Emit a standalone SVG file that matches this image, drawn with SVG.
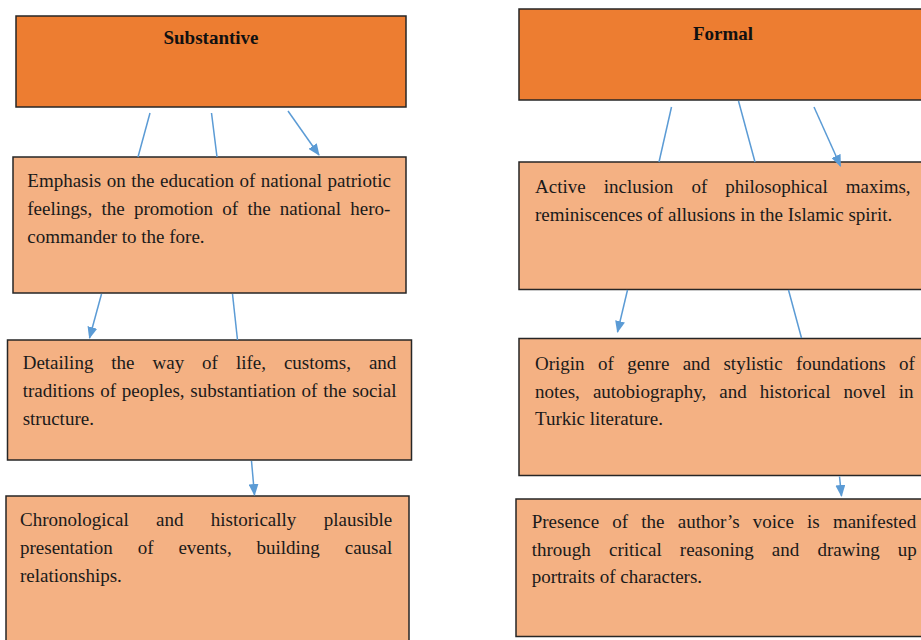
<svg xmlns="http://www.w3.org/2000/svg" width="921" height="640" viewBox="0 0 921 640">
<style>
.head{fill:#ED7D31;stroke:#262626;stroke-width:1.5}
.item{fill:#F4B183;stroke:#262626;stroke-width:1.5}
.title{font-family:"Liberation Serif","Times New Roman",serif;font-weight:bold;font-size:19px;fill:#111;text-anchor:middle}
.t{font-family:"Liberation Serif","Times New Roman",serif;font-size:19px;fill:#1a1a1a}
.c{stroke:#5B9BD5;stroke-width:1.5;fill:none}
</style>
<defs>
<marker id="ah" markerUnits="userSpaceOnUse" markerWidth="12" markerHeight="10" refX="11" refY="5" orient="auto">
<path d="M0,0 L12,5 L0,10 Z" fill="#5B9BD5"/>
</marker>
</defs>
<rect width="921" height="640" fill="#ffffff"/>

<g id="substantive">
<rect class="head" x="16" y="16" width="390" height="91"/>
<text class="title" x="211" y="44">Substantive</text>
</g>

<g id="s1">
<rect class="item" x="13" y="157" width="393" height="136"/>
<text class="t" x="27.3" y="187" word-spacing="0.8">Emphasis on the education of national patriotic</text>
<text class="t" x="27.3" y="215" word-spacing="4.5">feelings, the promotion of the national hero-</text>
<text class="t" x="27.3" y="243">commander to the fore.</text>
</g>

<g id="s2">
<rect class="item" x="7.5" y="340" width="404" height="120"/>
<text class="t" x="22.7" y="369" word-spacing="13.2">Detailing the way of life, customs, and</text>
<text class="t" x="22.7" y="397" word-spacing="1">traditions of peoples, substantiation of the social</text>
<text class="t" x="22.7" y="425">structure.</text>
</g>

<g id="s3">
<rect class="item" x="6" y="496" width="403" height="150"/>
<text class="t" x="20" y="526" word-spacing="22.6">Chronological and historically plausible</text>
<text class="t" x="20" y="554" word-spacing="20.1">presentation of events, building causal</text>
<text class="t" x="20" y="582">relationships.</text>
</g>

<g id="formal">
<rect class="head" x="519" y="9" width="410" height="91"/>
<text class="title" x="723" y="40">Formal</text>
</g>

<g id="f1">
<rect class="item" x="519" y="162" width="410" height="127.5"/>
<text class="t" x="535" y="193" word-spacing="13.3">Active inclusion of philosophical maxims,</text>
<text class="t" x="535" y="221">reminiscences of allusions in the Islamic spirit.</text>
</g>

<g id="f2">
<rect class="item" x="519" y="338.5" width="410" height="137"/>
<text class="t" x="535" y="370" word-spacing="8.6">Origin of genre and stylistic foundations of</text>
<text class="t" x="535" y="398" word-spacing="8.3">notes, autobiography, and historical novel in</text>
<text class="t" x="535" y="425">Turkic literature.</text>
</g>

<g id="f3">
<rect class="item" x="516" y="499" width="413" height="137.5"/>
<text class="t" x="531.7" y="528" word-spacing="8.4">Presence of the author’s voice is manifested</text>
<text class="t" x="531.7" y="556" word-spacing="13.4">through critical reasoning and drawing up</text>
<text class="t" x="531.7" y="583">portraits of characters.</text>
</g>

<g id="connectors">
<line class="c" x1="150" y1="113" x2="138" y2="157"/>
<line class="c" x1="211.5" y1="113" x2="217" y2="157"/>
<line class="c" x1="288" y1="111" x2="319" y2="155" marker-end="url(#ah)"/>
<line class="c" x1="101.5" y1="294" x2="89.5" y2="338" marker-end="url(#ah)"/>
<line class="c" x1="232.5" y1="294" x2="237.5" y2="340"/>
<line class="c" x1="251.5" y1="461" x2="254.5" y2="495" marker-end="url(#ah)"/>
<line class="c" x1="671.5" y1="107" x2="659" y2="162"/>
<line class="c" x1="738.5" y1="101" x2="755" y2="162"/>
<line class="c" x1="814" y1="107" x2="840.5" y2="166" marker-end="url(#ah)"/>
<line class="c" x1="627.5" y1="290" x2="617.5" y2="332" marker-end="url(#ah)"/>
<line class="c" x1="788.5" y1="290" x2="801.5" y2="338"/>
<line class="c" x1="839.5" y1="476.5" x2="841.5" y2="496" marker-end="url(#ah)"/>
</g>
</svg>
